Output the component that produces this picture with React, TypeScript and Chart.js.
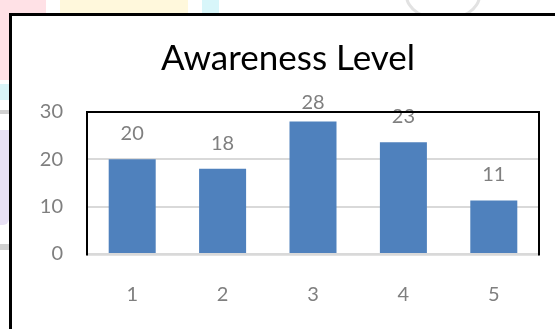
import { useEffect, useRef } from "react";
import { Chart, registerables } from "chart.js";

Chart.register(...registerables);

const categories = ["1", "2", "3", "4", "5"];
const values = [20, 18, 28, 23.6, 11.3];
const valueLabels = ["20", "18", "28", "23", "11"];
const yMin = 0;
const yMax = 30;
const yStep = 10;
const titleText = "Awareness Level";

const FONT = "Lato, 'Open Sans', sans-serif";

export default function App() {
  const ref = useRef<HTMLCanvasElement>(null);

  useEffect(() => {
    document.body.style.margin = "0";
    const canvas = ref.current;
    if (!canvas) return;

    const framePlugin = {
      id: "framePlugin",
      afterDatasetsDraw(chart: any) {
        const { ctx, chartArea: a } = chart;
        const meta = chart.getDatasetMeta(0);
        ctx.save();
        ctx.font = `20px ${FONT}`;
        ctx.fillStyle = "#7f7f7f";
        ctx.textAlign = "center";
        ctx.textBaseline = "middle";
        meta.data.forEach((bar: any, i: number) => {
          const y = Math.max(bar.y - 25.5, a.top - 9);
          ctx.fillText(valueLabels[i], bar.x, y);
        });
        ctx.strokeStyle = "#d9d9d9";
        ctx.lineWidth = 2.5;
        ctx.beginPath();
        ctx.moveTo(a.left, a.bottom + 0.5);
        ctx.lineTo(a.right, a.bottom + 0.5);
        ctx.stroke();
        ctx.strokeStyle = "#000";
        ctx.lineWidth = 2;
        ctx.beginPath();
        ctx.moveTo(a.left, a.bottom + 1.5);
        ctx.lineTo(a.left, a.top);
        ctx.lineTo(a.right, a.top);
        ctx.lineTo(a.right, a.bottom + 1.5);
        ctx.stroke();
        ctx.restore();
      },
    };

    const chart = new Chart(canvas, {
      type: "bar",
      data: {
        labels: categories,
        datasets: [
          {
            data: values,
            backgroundColor: "#4f81bd",
            borderWidth: 0,
            categoryPercentage: 1,
            barPercentage: 0.52,
          },
        ],
      },
      options: {
        responsive: false,
        animation: false,
        devicePixelRatio: 1,
        layout: { padding: { left: 37, right: 16, top: 0, bottom: 0 } },
        plugins: {
          legend: { display: false },
          tooltip: { enabled: false },
          title: {
            display: true,
            text: titleText,
            color: "#000",
            font: { family: FONT, size: 35, weight: "normal", lineHeight: 1.2 },
            padding: { top: 38, bottom: 32 },
          },
        },
        scales: {
          x: {
            grid: { display: false, drawTicks: false },
            border: { display: false },
            ticks: {
              color: "#7f7f7f",
              font: { family: FONT, size: 20 },
              padding: 29,
            },
            afterFit(scale: any) {
              scale.height = 75;
            },
          },
          y: {
            min: yMin,
            max: yMax,
            grid: { color: "#d9d9d9", lineWidth: 2, drawTicks: false },
            border: { display: false },
            ticks: {
              stepSize: yStep,
              color: "#7f7f7f",
              font: { family: FONT, size: 20 },
              padding: 24,
            },
            afterFit(scale: any) {
              scale.width = 50;
            },
          },
        },
      },
      plugins: [framePlugin],
    });

    return () => chart.destroy();
  }, []);

  const abs = (l: number, t: number, w: number, h: number, bg: string, extra: any = {}) => ({
    position: "absolute" as const,
    left: l,
    top: t,
    width: w,
    height: h,
    background: bg,
    ...extra,
  });

  return (
    <div
      style={{
        position: "fixed",
        left: 0,
        top: 0,
        width: 555,
        height: 329,
        overflow: "hidden",
        background: "#ffffff",
      }}
    >
      <div style={abs(0, 0, 46, 13, "#ffe1e6")} />
      <div style={abs(0, 0, 9, 80, "#ffe1e6")} />
      <div style={abs(60, 0, 128, 13, "#fff8dc")} />
      <div style={abs(202, 0, 17, 13, "#d8f6fa")} />
      <div style={abs(0, 84, 9, 16, "#d9f5f8")} />
      <div style={abs(0, 110, 9, 4, "#d0d0d0")} />
      <div style={abs(0, 130, 9, 95, "#e8e1f5", { borderBottomRightRadius: 6 })} />
      <div style={abs(0, 244, 9, 6, "#d0d0d0")} />
      <div
        style={abs(405, -30, 70, 45, "transparent", {
          border: "3px solid #e2e2e2",
          borderRadius: "50%",
        })}
      />
      <div
        style={{
          position: "absolute",
          left: 9,
          top: 13,
          width: 620,
          height: 400,
          border: "3px solid #000",
          background: "#fff",
        }}
      />
      <canvas
        ref={ref}
        width={555}
        height={329}
        style={{ position: "absolute", left: 0, top: 0, width: 555, height: 329 }}
      />
    </div>
  );
}
